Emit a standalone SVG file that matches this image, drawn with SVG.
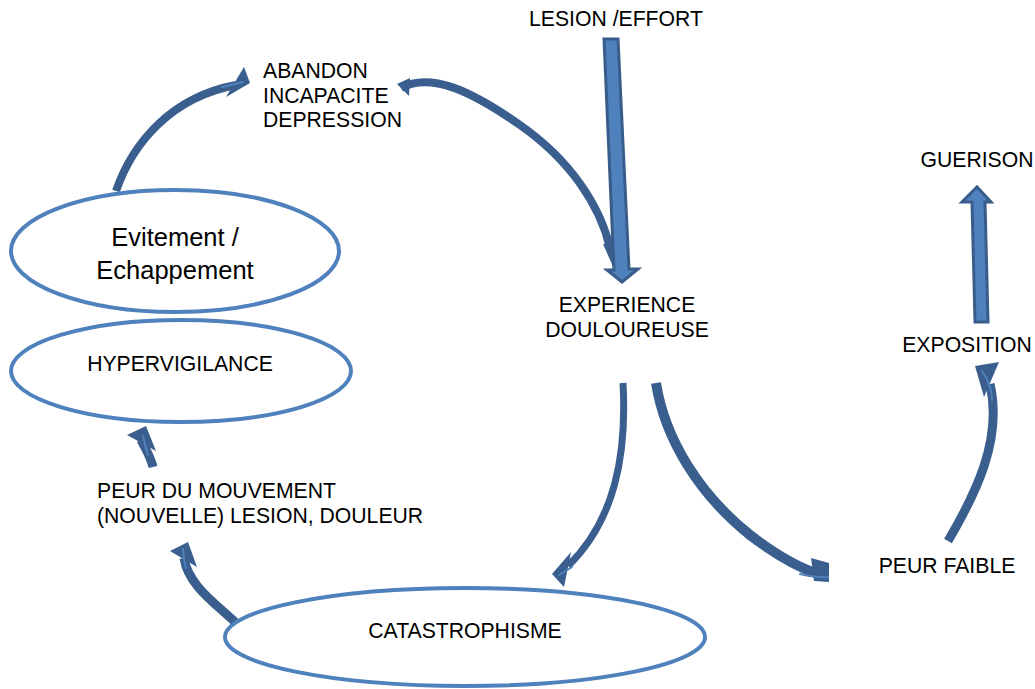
<svg xmlns="http://www.w3.org/2000/svg" width="1035" height="689" viewBox="0 0 1035 689">
<style>
.node{fill:none;stroke:#4f81bd;stroke-width:4}
.t{font-family:"Liberation Sans",Arial,sans-serif;font-size:21.2px;fill:#000}
.tb{font-family:"Liberation Sans",Arial,sans-serif;font-size:25.5px;fill:#000}
.sh{fill:none;stroke:#3a5f8f;stroke-linecap:butt}
.hd{fill:#3a5f8f}
.blk{fill:#4f81bd;stroke:#385d8a;stroke-width:3;stroke-linejoin:miter}
.hl{fill:none;stroke:#4f81bd;stroke-width:2;stroke-linecap:round}
</style>
<rect width="1035" height="689" fill="#fff"/>
<g id="connectors">
  <!-- Evitement -> ABANDON -->
  <path class="sh" stroke-width="8" d="M116,191 C133,142 172,97 236,85"/>
  <polygon class="hd" points="244,67 250,83 226,97"/>
  <path class="hl" d="M222,87 Q232,85 243,82"/>
  <!-- ABANDON -> EXPERIENCE -->
  <path class="sh" stroke-width="8" d="M401,88 C430,72 470,90 520,125 C570,160 600,205 610,248"/>
  <polygon class="hd" points="397,84 410,78 409,96"/>
  <polygon class="hd" points="603,244 621,246 615,271"/>
  <!-- LESION -> EXPERIENCE (block) -->
  <polygon class="blk" points="604,39 618,39 629,269 638,269 622,282 607,270 614,270"/>
  <!-- EXPERIENCE -> CATASTROPHISME -->
  <path class="sh" stroke-width="7" d="M623,383 C627,455 615,520 568,566"/>
  <polygon class="hd" points="571,552 552,574 564,587"/>
  <path class="hl" d="M559,575 Q566,571 572,567"/>
  <!-- EXPERIENCE -> PEUR FAIBLE -->
  <path class="sh" stroke-width="10" d="M656,383 C665,440 700,495 750,535 C780,558 800,568 818,574"/>
  <polygon class="hd" points="811,558 829,563 829,582 814,581"/>
  <path class="hl" d="M800,574 Q814,578 828,577"/>
  <!-- PEUR FAIBLE -> EXPOSITION -->
  <path class="sh" stroke-width="9" d="M948,541 C975,495 1003,440 990,384"/>
  <polygon class="hd" points="975,366 999,362 984,397"/>
  <path class="hl" d="M992,400 Q992,385 982,371"/>
  <!-- EXPOSITION -> GUERISON (block) -->
  <polygon class="blk" points="975,322 988,322 985,202 991,202 977,187 962,202 972,202"/>
  <!-- CATASTROPHISME -> PEUR DU MOUVEMENT -->
  <path class="sh" stroke-width="9" d="M236,623 C215,603 188,585 184,558"/>
  <polygon class="hd" points="170,551 188,542 197,567"/>
  <path class="hl" d="M186,568 Q183,558 183,549"/>
  <!-- PEUR DU MOUVEMENT -> HYPERVIGILANCE -->
  <path class="sh" stroke-width="9" d="M153,467 C150,455 145,448 141,440"/>
  <polygon class="hd" points="127,435 146,426 156,451"/>
  <path class="hl" d="M148,455 Q145,445 143,436"/>
</g>
<g id="evitement">
  <ellipse class="node" cx="175" cy="251" rx="164" ry="61"/>
  <text class="tb" x="175" y="246" text-anchor="middle">Evitement /</text>
  <text class="tb" x="175" y="279" text-anchor="middle">Echappement</text>
</g>
<g id="hypervigilance">
  <ellipse class="node" cx="181" cy="371" rx="170" ry="51"/>
  <text class="t" x="180" y="371" text-anchor="middle">HYPERVIGILANCE</text>
</g>
<g id="catastrophisme">
  <ellipse class="node" cx="465" cy="637" rx="240" ry="49"/>
  <text class="t" x="465" y="638" text-anchor="middle">CATASTROPHISME</text>
</g>
<g id="abandon">
  <text class="t" x="263" y="78">ABANDON</text>
  <text class="t" x="263" y="102.5">INCAPACITE</text>
  <text class="t" x="263" y="127">DEPRESSION</text>
</g>
<g id="lesion">
  <text class="t" x="616" y="26" text-anchor="middle">LESION /EFFORT</text>
</g>
<g id="experience">
  <text class="t" x="627" y="312" text-anchor="middle">EXPERIENCE</text>
  <text class="t" x="627" y="337" text-anchor="middle">DOULOUREUSE</text>
</g>
<g id="guerison">
  <text class="t" x="977" y="167" text-anchor="middle">GUERISON</text>
</g>
<g id="exposition">
  <text class="t" x="967" y="352" text-anchor="middle">EXPOSITION</text>
</g>
<g id="peur-faible">
  <text class="t" x="947" y="573" text-anchor="middle">PEUR FAIBLE</text>
</g>
<g id="peur-mouvement">
  <text class="t" x="97" y="498">PEUR DU MOUVEMENT</text>
  <text class="t" x="97" y="523">(NOUVELLE) LESION, DOULEUR</text>
</g>
</svg>
